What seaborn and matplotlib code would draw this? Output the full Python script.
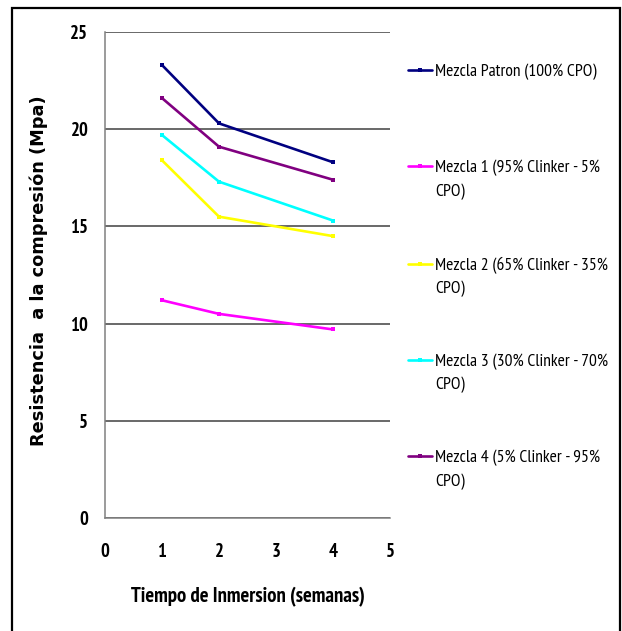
import matplotlib
matplotlib.use("Agg")
import matplotlib.pyplot as plt
import matplotlib.patches as mpatches
from matplotlib import font_manager as fm
import seaborn as sns
import pandas as pd

# ---- data ----
semanas = [1, 2, 4]
series_names = [
    "Mezcla Patron (100% CPO)",
    "Mezcla 1 (95% Clinker - 5%\nCPO)",
    "Mezcla 2 (65% Clinker - 35%\nCPO)",
    "Mezcla 3 (30% Clinker - 70%\nCPO)",
    "Mezcla 4 (5% Clinker - 95%\nCPO)",
]
patron = [23.3, 20.3, 18.3]
mezcla1 = [11.2, 10.5, 9.7]
mezcla2 = [18.4, 15.5, 14.5]
mezcla3 = [19.7, 17.3, 15.3]
mezcla4 = [21.6, 19.1, 17.4]
colors = ["#000080", "#FF00FF", "#FFFF00", "#00FFFF", "#800080"]
x_ticks = [0, 1, 2, 3, 4, 5]
y_ticks = [0, 5, 10, 15, 20, 25]

values = [patron, mezcla1, mezcla2, mezcla3, mezcla4]
rows = []
for name, vals in zip(series_names, values):
    for s, v in zip(semanas, vals):
        rows.append({"semana": s, "resistencia": v, "serie": name})
df = pd.DataFrame(rows)

sns.set_theme(style="white")
available = {f.name for f in fm.fontManager.ttflist}
narrow = next((c for c in ["Liberation Sans Narrow", "Arial Narrow", "PT Sans Narrow",
                           "Archivo Narrow", "Roboto Condensed", "Barlow Condensed"]
               if c in available), "DejaVu Sans")
plt.rcParams["font.family"] = [narrow, "DejaVu Sans"]

W, H = 622, 631
fig = plt.figure(figsize=(W / 100, H / 100), dpi=100)
ax = fig.add_axes([105 / W, 1 - 518 / H, 285 / W, 486 / H])

sns.lineplot(data=df, x="semana", y="resistencia", hue="serie",
             hue_order=series_names, palette=dict(zip(series_names, colors)),
             marker="s", markersize=3.5, markeredgewidth=0, linewidth=1.9,
             legend=False, ax=ax, clip_on=False)

ax.set_xlim(0, 5)
ax.set_ylim(0, 25)
ax.set_xticks(x_ticks)
ax.set_yticks(y_ticks)
ax.yaxis.grid(True, color="#404040", linewidth=1.1)
ax.xaxis.grid(False)
for side in ["top", "right"]:
    ax.spines[side].set_visible(False)
for side in ["left", "bottom"]:
    ax.spines[side].set_color("#808080")
    ax.spines[side].set_linewidth(1.1)

ax.tick_params(axis="both", length=0)
ax.tick_params(axis="y", pad=12)
ax.tick_params(axis="x", pad=18)
for lab in ax.get_xticklabels() + ax.get_yticklabels():
    lab.set_fontsize(13.5)
    lab.set_fontweight("bold")
    lab.set_color("black")

ax.set_xlabel("Tiempo de Inmersion (semanas)", fontsize=14,
              fontweight="bold", color="black")
ax.xaxis.set_label_coords(0.5, -0.163)
ax.xaxis.label.set_verticalalignment("center")

ax.set_ylabel("Resistencia  a la compresión (Mpa)", fontsize=12.8,
              fontweight="bold", color="black",
              family=["DejaVu Sans"])
ax.yaxis.set_label_coords(-0.232, 0.508)
ax.yaxis.label.set_verticalalignment("center")

fig.canvas.draw()
renderer = fig.canvas.get_renderer()

# fit the narrow texts to the reference widths
def fit_width(t, target_px):
    w = t.get_window_extent(renderer).width
    if w > 0:
        t.set_fontsize(t.get_fontsize() * target_px / w)

fit_width(ax.xaxis.label, 237)
ax.xaxis.label.set_fontsize(min(ax.xaxis.label.get_fontsize(), 15.5))

# legend font size fitted so that first label is ~162 px wide
probe = fig.text(0, 0, series_names[0], fontsize=11)
fig.canvas.draw()
pw = probe.get_window_extent(renderer).width
probe.remove()
fs = min(11 * 162 / pw, 13)
fs_px = fs / 0.72

handles = ax.get_lines()[:len(series_names)]
first_lines = [n.split("\n")[0] for n in series_names]
leg = fig.legend(handles, first_lines, loc="upper left",
                 bbox_to_anchor=(408 / W, 1 - 63 / H),
                 bbox_transform=fig.transFigure, frameon=False,
                 fontsize=fs, handlelength=24 / fs_px, handletextpad=3 / fs_px,
                 borderpad=0, borderaxespad=0, labelspacing=80 / fs_px)
for t in leg.get_texts():
    t.set_color("black")

fig.canvas.draw()
texts = leg.get_texts()
def center_y(t):
    bb = t.get_window_extent(renderer)
    return (bb.y0 + bb.y1) / 2
gap = center_y(texts[0]) - center_y(texts[1])
if gap > 0:
    leg.labelspacing = leg.labelspacing + (97.75 - gap) / fs_px
fig.canvas.draw()
shift = (H - 72) - center_y(texts[0])
leg.set_bbox_to_anchor((408 / W, 1 - 63 / H + shift / H), transform=fig.transFigure)
fig.canvas.draw()

for name, t in zip(series_names, leg.get_texts()):
    parts = name.split("\n")
    if len(parts) > 1:
        bb = t.get_window_extent(renderer)
        cy = (bb.y0 + bb.y1) / 2 - 23.5
        fig.text(bb.x0 / W, cy / H, parts[1], fontsize=fs, va="center",
                 ha="left", color="black")

# outer frame
fig.patches.append(mpatches.Rectangle((12 / W, -0.05), 608 / W, 1 - 8 / H + 0.05,
                                      transform=fig.transFigure, fill=False,
                                      edgecolor="black", linewidth=1.6))

fig.savefig("out.png", dpi=100)
